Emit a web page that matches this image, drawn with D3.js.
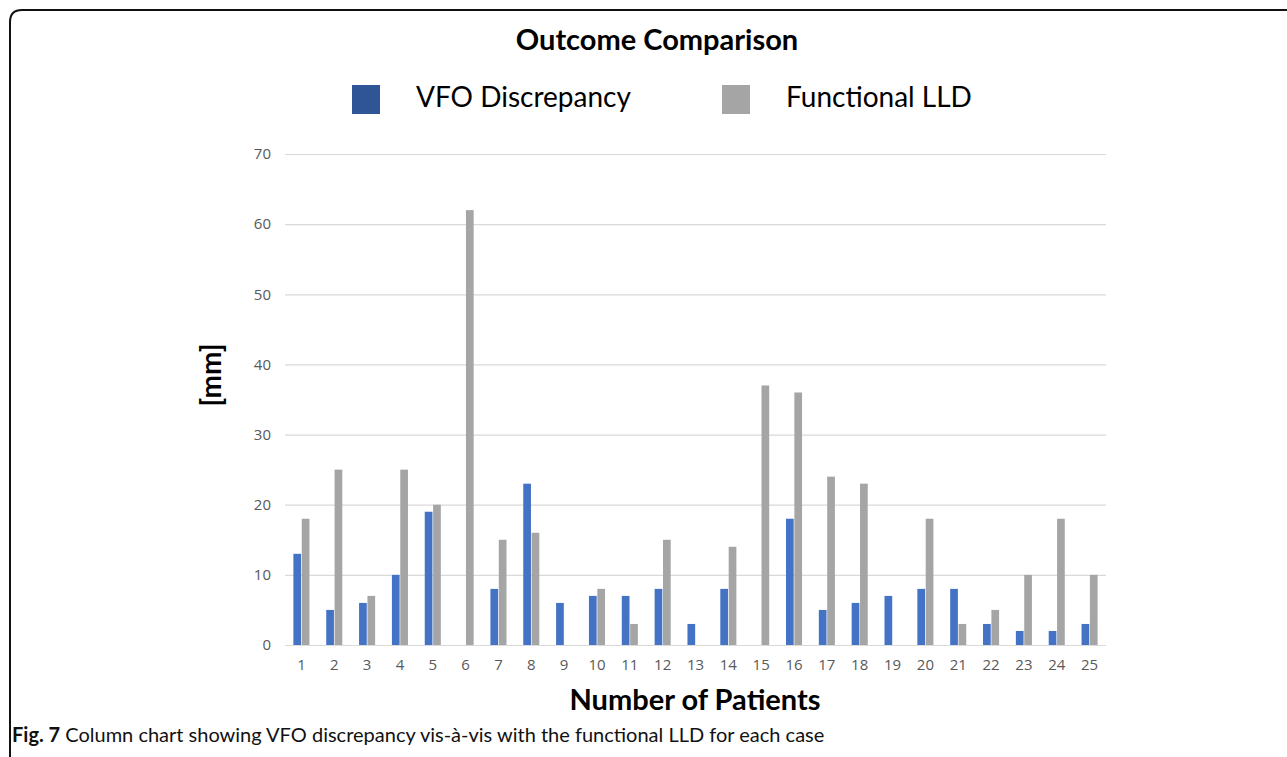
<!DOCTYPE html>
<html>
<head>
<meta charset="utf-8">
<script src="https://cdn.jsdelivr.net/npm/d3@7"></script>
<style>
  body { margin: 0; background: #fff; }
  text { font-family: Lato, 'Open Sans', sans-serif; }
</style>
</head>
<body>
<div id="chart"></div>
<script>
const patients = d3.range(1, 26).map(String)
const series = ['VFO Discrepancy', 'Functional LLD']
const vfo = [13, 5, 6, 10, 19, 0, 8, 23, 6, 7, 7, 8, 3, 8, 0, 18, 5, 6, 7, 8, 8, 3, 2, 2, 3]
const lld = [18, 25, 7, 25, 20, 62, 15, 16, 0, 8, 3, 15, 0, 14, 37, 36, 24, 23, 0, 18, 3, 5, 10, 18, 10]
const yTicks = [0, 10, 20, 30, 40, 50, 60, 70]

const width = 1287
const height = 757
const margin = { top: 154, left: 285, right: 181, bottom: 112 }

const barColors = ['#4472C4', '#A5A5A5']
const legendColors = ['#2F5597', '#A5A5A5']

const svg = d3.select('#chart')
  .append('svg')
  .attr('width', width)
  .attr('height', height)

// frame with rounded top-left corner
svg.append('path')
  .attr('d', 'M10,770 L10,22 Q10,10 22,10 L1290,10')
  .attr('fill', 'none')
  .attr('stroke', '#111')
  .attr('stroke-width', 2)

const x = d3.scaleBand()
  .domain(patients)
  .range([margin.left, width - margin.right])
  .paddingInner(0.47)
  .paddingOuter(0.235)

const xInner = d3.scaleBand()
  .domain(series)
  .range([0, x.bandwidth()])
  .padding(0.08)

const y = d3.scaleLinear()
  .domain([0, 70])
  .range([height - margin.bottom, margin.top])

// gridlines + y labels
const yAxis = svg.append('g')
  .attr('transform', `translate(${margin.left},0)`)
  .call(d3.axisLeft(y).tickValues(yTicks).tickSize(-(width - margin.left - margin.right)).tickPadding(14))
yAxis.select('.domain').remove()
yAxis.selectAll('.tick line').attr('stroke', '#d9d9d9').attr('stroke-width', 1.2)
yAxis.selectAll('.tick text')
  .attr('fill', '#595959')
  .style('font-size', '15px')
  .style('font-family', "'Open Sans', sans-serif")

// x labels
const xAxis = svg.append('g')
  .attr('transform', `translate(0,${height - margin.bottom})`)
  .call(d3.axisBottom(x).tickSize(0).tickPadding(14))
xAxis.select('.domain').remove()
xAxis.selectAll('.tick text')
  .attr('fill', '#595959')
  .style('font-size', '15px')
  .style('font-family', "'Open Sans', sans-serif")

const rows = patients.map((p, i) => ({ p: p, values: [vfo[i], lld[i]] }))

const groups = svg.selectAll('.grp')
  .data(rows)
  .enter()
  .append('g')
  .attr('class', 'grp')
  .attr('transform', d => `translate(${x(d.p)},0)`)

groups.selectAll('rect')
  .data(d => d.values.map((v, j) => ({ s: series[j], v: v, j: j })))
  .enter()
  .append('rect')
  .attr('x', d => xInner(d.s))
  .attr('y', d => y(d.v))
  .attr('width', xInner.bandwidth())
  .attr('height', d => y(0) - y(d.v))
  .attr('fill', d => barColors[d.j])

// title
svg.append('text')
  .attr('x', 657)
  .attr('y', 50)
  .attr('text-anchor', 'middle')
  .style('font-size', '29px')
  .style('font-weight', 'bold')
  .text('Outcome Comparison')

// legend
const legendX = [352, 722]
series.forEach((s, i) => {
  svg.append('rect')
    .attr('x', legendX[i])
    .attr('y', 85)
    .attr('width', 28)
    .attr('height', 29)
    .attr('fill', legendColors[i])
  svg.append('text')
    .attr('x', legendX[i] + 64)
    .attr('y', 107)
    .style('font-size', '28px')
    .text(s)
})

// y axis title
svg.append('text')
  .attr('transform', 'translate(221,375) rotate(-90)')
  .attr('text-anchor', 'middle')
  .style('font-size', '28px')
  .style('font-weight', 'bold')
  .text('[mm]')

// x axis title
svg.append('text')
  .attr('x', 695)
  .attr('y', 710)
  .attr('text-anchor', 'middle')
  .style('font-size', '29px')
  .style('font-weight', 'bold')
  .text('Number of Patients')

// caption
const cap = svg.append('text')
  .attr('x', 12)
  .attr('y', 742)
  .style('font-size', '20px')
  .attr('fill', '#111')
cap.append('tspan').style('font-weight', 'bold').text('Fig. 7')
cap.append('tspan').text(' Column chart showing VFO discrepancy vis-à-vis with the functional LLD for each case')
</script>
</body>
</html>
